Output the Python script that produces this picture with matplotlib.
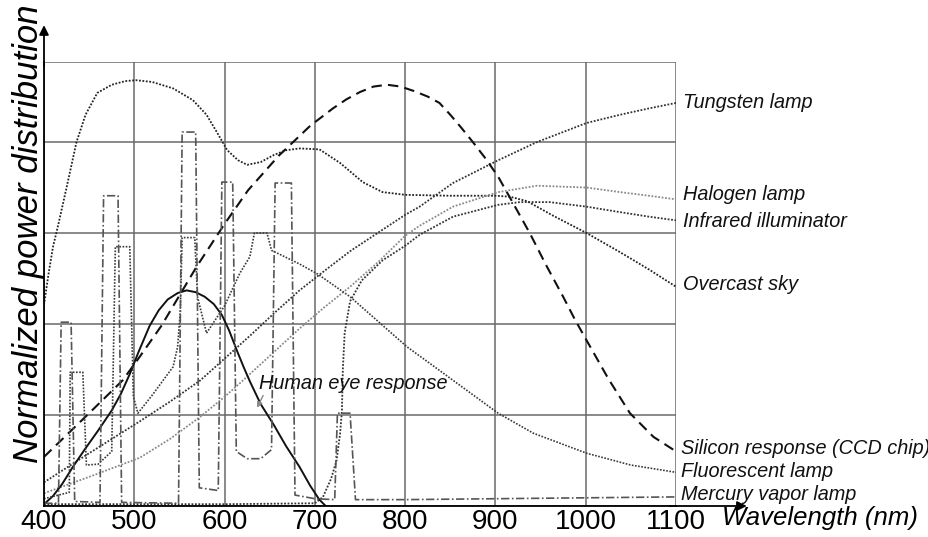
import matplotlib
matplotlib.use("Agg")
import matplotlib.pyplot as plt

plt.rcParams['font.family'] = ['Liberation Sans', 'DejaVu Sans']

# ---- data (wavelength nm, normalized power in grid units) ----
overcast_wl = [400, 405, 410, 416, 425, 436, 446, 459, 475, 490, 502, 520, 543, 565, 580, 592, 603, 615, 625,
               640, 655, 668, 683, 705, 728, 753, 775, 800, 850, 900, 916, 935, 946, 964, 1001, 1038, 1070, 1100]
overcast_v = [2.21, 2.55, 2.85, 3.1, 3.5, 4.0, 4.3, 4.54, 4.63, 4.67, 4.68, 4.66, 4.59, 4.46, 4.3, 4.1, 3.91, 3.8, 3.75,
              3.78, 3.86, 3.91, 3.93, 3.92, 3.77, 3.56, 3.45, 3.42, 3.41, 3.41, 3.40, 3.35, 3.29, 3.19, 3.0, 2.79, 2.6, 2.41]

tungsten_wl = [400, 450, 506, 540, 573, 600, 628, 655, 683, 710, 739, 774, 800, 816, 853, 903, 946, 1001, 1038, 1070, 1100]
tungsten_v = [0.26, 0.58, 0.93, 1.15, 1.38, 1.62, 1.87, 2.12, 2.37, 2.58, 2.80, 3.03, 3.2, 3.29, 3.55, 3.80, 4.0, 4.21, 4.30, 4.37, 4.43]

halogen_wl = [400, 450, 506, 540, 573, 600, 617, 650, 683, 710, 739, 770, 800, 816, 853, 903, 946, 1001, 1038, 1070, 1100]
halogen_v = [0.14, 0.32, 0.53, 0.74, 0.98, 1.2, 1.35, 1.65, 1.95, 2.18, 2.41, 2.68, 2.97, 3.08, 3.29, 3.45, 3.52, 3.5, 3.45, 3.41, 3.37]

infrared_wl = [400, 500, 600, 700, 709, 718, 724, 728, 730, 731, 733, 739, 752, 775, 800, 816, 853, 903, 927, 960, 1001, 1038, 1070, 1100]
infrared_v = [0.02, 0.02, 0.02, 0.03, 0.1, 0.3, 0.5, 0.8, 1.05, 1.5, 1.9, 2.25, 2.48, 2.7, 2.86, 2.98, 3.18, 3.31, 3.34, 3.34, 3.29, 3.23, 3.18, 3.14]

silicon_wl = [400, 450, 487, 506, 530, 569, 600, 626, 660, 695, 720, 735, 750, 765, 780, 795, 810, 825, 838, 850, 862,
              875, 889, 903, 920, 938, 956, 975, 988, 1001, 1025, 1049, 1075, 1100]
silicon_v = [0.54, 1.02, 1.38, 1.64, 1.98, 2.63, 3.1, 3.47, 3.85, 4.18, 4.37, 4.47, 4.55, 4.61, 4.63, 4.61, 4.56, 4.5, 4.43, 4.3, 4.16,
             4.0, 3.82, 3.62, 3.32, 3.0, 2.65, 2.30, 2.05, 1.82, 1.4, 1.02, 0.76, 0.6]

eye_wl = [400, 410, 420, 432, 445, 460, 475, 485, 495, 505, 517, 527, 537, 548, 558, 568, 578, 588, 597, 605, 614, 621,
          628, 640, 654, 668, 683, 695, 705, 712]
eye_v = [0.02, 0.11, 0.24, 0.43, 0.62, 0.83, 1.05, 1.23, 1.45, 1.7, 1.98, 2.15, 2.27, 2.34, 2.37, 2.35, 2.3, 2.22, 2.1, 1.93, 1.7, 1.53,
         1.37, 1.12, 0.9, 0.66, 0.43, 0.22, 0.07, 0.0]

fluor_wl = [400, 428, 429, 443, 447, 460, 475, 479, 495, 499, 504, 520, 543, 548, 551, 553, 567, 570, 575, 580, 600, 617, 628,
            633, 647, 652, 683, 703, 739, 802, 827, 903, 942, 1001, 1050, 1100]
fluor_v = [0.08, 0.15, 1.47, 1.47, 0.45, 0.46, 0.6, 2.85, 2.85, 1.2, 1.02, 1.22, 1.53, 1.75, 2.15, 2.95, 2.95, 2.3, 2.1, 1.9, 2.2, 2.56, 2.74,
           3.0, 3.0, 2.81, 2.66, 2.55, 2.30, 1.75, 1.57, 1.02, 0.8, 0.58, 0.45, 0.37]

mercury_wl = [400, 416, 419, 430, 434, 462, 466, 482, 486, 549, 553, 568, 572, 593, 597, 609, 613, 625, 640, 652, 656, 674, 678,
              700, 722, 725, 739, 745, 800, 1100]
mercury_v = [0.03, 0.03, 2.02, 2.02, 0.05, 0.04, 3.41, 3.41, 0.04, 0.03, 4.11, 4.11, 0.2, 0.17, 3.56, 3.56, 0.6, 0.52, 0.52, 0.62, 3.55, 3.55, 0.12,
             0.08, 0.07, 1.02, 1.02, 0.07, 0.07, 0.1]

x_ticks = [400, 500, 600, 700, 800, 900, 1000, 1100]
y_grid = [0, 1, 2, 3, 4, 4.88]

labels = ["Tungsten lamp", "Halogen lamp", "Infrared illuminator", "Overcast sky",
          "Silicon response (CCD chip)", "Fluorescent lamp", "Mercury vapor lamp"]
label_y = [4.43, 3.42, 3.13, 2.43, 0.63, 0.38, 0.13]
label_x = [1107.5, 1107.5, 1107.5, 1107.5, 1105, 1105, 1105]

# ---- figure ----
fig = plt.figure(figsize=(9.29, 5.37), dpi=100)
ax = fig.add_axes([44/929, 1-506/537, 632/929, 444/537])
ax.set_xlim(400, 1100)
ax.set_ylim(0, 4.88)

ax.set_xticks(x_ticks)
ax.set_xticklabels([str(t) for t in x_ticks], fontsize=20)
ax.set_yticks(y_grid)
ax.set_yticklabels([])
ax.tick_params(length=0, pad=2)
ax.grid(True, color='#6a6a6a', lw=1.1)
ax.set_axisbelow(True)
for s in ['top', 'right']:
    ax.spines[s].set_visible(False)
ax.spines['left'].set_color('black')
ax.spines['bottom'].set_color('black')
ax.spines['left'].set_linewidth(1.3)
ax.spines['bottom'].set_linewidth(1.3)

dot = (0, (1.0, 0.9))
ax.plot(overcast_wl, overcast_v, color='#222222', lw=1.3, ls=dot)
ax.plot(tungsten_wl, tungsten_v, color='#333333', lw=1.3, ls=dot)
ax.plot(halogen_wl, halogen_v, color='#8a8a8a', lw=1.3, ls=dot)
ax.plot(infrared_wl, infrared_v, color='#333333', lw=1.3, ls=dot)
ax.plot(silicon_wl, silicon_v, color='#111111', lw=1.5, ls=(0, (5, 3)))
ax.plot(eye_wl, eye_v, color='#111111', lw=1.4, ls='-')
ax.plot(fluor_wl, fluor_v, color='#3a3a3a', lw=1.2, ls=dot)
ax.plot(mercury_wl, mercury_v, color='#555555', lw=1.2, ls=(0, (5, 1.5, 1, 1.5)))

for t, lx, ly in zip(labels, label_x, label_y):
    ax.text(lx, ly, t, fontsize=14.3, style='italic', va='center', ha='left', clip_on=False, color='#111111')

ax.annotate("Human eye response", xy=(636, 1.08), xytext=(638, 1.35), fontsize=14.3, style='italic',
            va='center', ha='left', color='#111111',
            arrowprops=dict(arrowstyle='-|>', color='#888888', lw=1.0, mutation_scale=8,
                            shrinkA=0, shrinkB=0, relpos=(0.03, 0.0)))

# axis arrows
ax.annotate("", xy=(0, 1.083), xytext=(0, 0.99), xycoords='axes fraction', textcoords='axes fraction',
            arrowprops=dict(arrowstyle='-|>', color='black', lw=1.3, mutation_scale=14, shrinkA=0, shrinkB=0))
ax.annotate("", xy=(1.112, 0), xytext=(0.99, 0), xycoords='axes fraction', textcoords='axes fraction',
            arrowprops=dict(arrowstyle='-|>', color='black', lw=1.3, mutation_scale=14, shrinkA=0, shrinkB=0))

fig.text(722/929, 1-518/537, "Wavelength (nm)", fontsize=18.5, style='italic', va='center', ha='left')
fig.text(29/929, 1-234/537, "Normalized power distribution", fontsize=25, style='italic',
         va='center', ha='center', rotation=90)

fig.savefig("out.png", dpi=100)
